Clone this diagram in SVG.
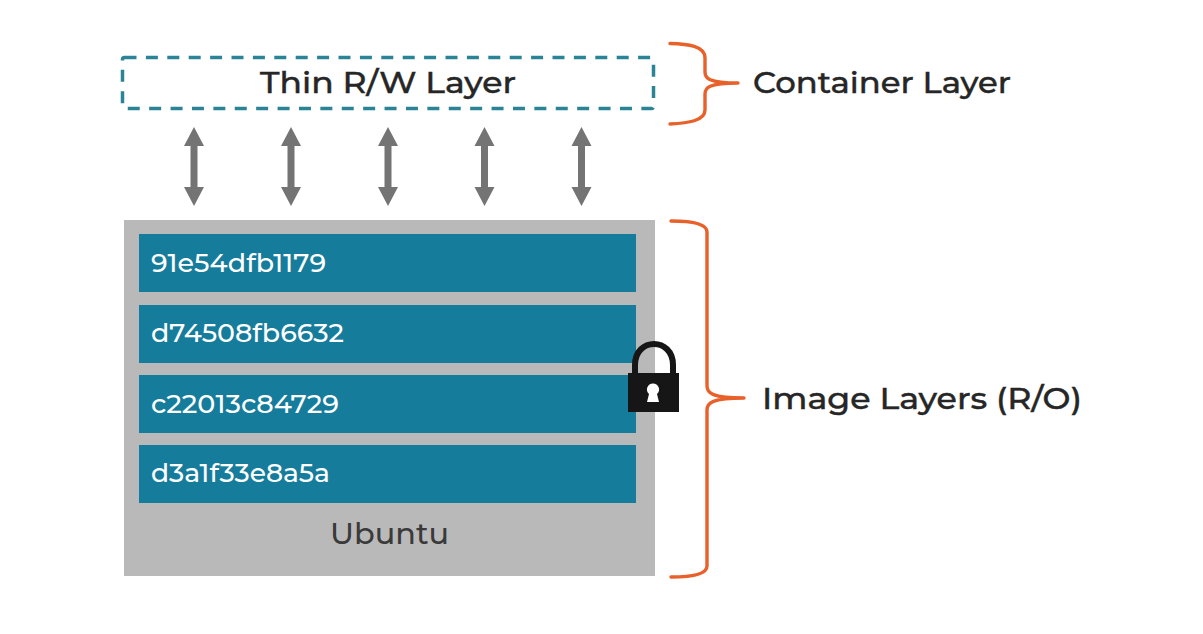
<svg xmlns="http://www.w3.org/2000/svg" width="1203" height="634" viewBox="0 0 1203 634">
<style>
text{font-family:"Montserrat","Inter","Noto Sans","Liberation Sans",sans-serif;font-weight:500}
.lbl{font-size:29px;fill:#262626;stroke:#262626;stroke-width:.4}
.hash{font-size:25px;fill:#fff;font-weight:500}
.layer{fill:#167c9c}
.brace{fill:none;stroke:#e8602a;stroke-width:3.400;stroke-linecap:round;stroke-linejoin:round}
.arr{fill:#747474}
</style>
<defs>
<path id="dbl" class="arr" d="M0 0L10 19H3.500V60H10L0 79L-10 60H-3.500V19H-10Z"/>
</defs>
<rect width="1203" height="634" fill="#fff"/>
<g id="thin-layer">
<rect x="122.500" y="57.500" width="531" height="51" rx="2" fill="none" stroke="#2a8496" stroke-width="3.500" stroke-dasharray="12 9.400"/>
<text class="lbl" x="388" y="93" text-anchor="middle" textLength="256" lengthAdjust="spacingAndGlyphs">Thin R/W Layer</text>
</g>
<g id="connectors">
<use href="#dbl" x="194" y="127"/>
<use href="#dbl" x="291" y="127"/>
<use href="#dbl" x="388" y="127"/>
<use href="#dbl" x="484.500" y="127"/>
<use href="#dbl" x="581.500" y="127"/>
</g>
<g id="ubuntu">
<rect x="124" y="220" width="531" height="356" fill="#b9b9b9"/>
<text class="lbl" x="389.500" y="544" text-anchor="middle" textLength="119" lengthAdjust="spacingAndGlyphs" style="fill:#3a3a3a;stroke:none">Ubuntu</text>
</g>
<g id="layer1"><rect class="layer" x="139" y="234" width="497" height="58"/><text class="hash" x="151" y="272" textLength="175" lengthAdjust="spacingAndGlyphs">91e54dfb1179</text></g>
<g id="layer2"><rect class="layer" x="139" y="305" width="497" height="58"/><text class="hash" x="151" y="342" textLength="193" lengthAdjust="spacingAndGlyphs">d74508fb6632</text></g>
<g id="layer3"><rect class="layer" x="139" y="375" width="497" height="58"/><text class="hash" x="151" y="413" textLength="188" lengthAdjust="spacingAndGlyphs">c22013c84729</text></g>
<g id="layer4"><rect class="layer" x="139" y="445" width="497" height="58"/><text class="hash" x="151" y="482" textLength="179" lengthAdjust="spacingAndGlyphs">d3a1f33e8a5a</text></g>
<g id="lock">
<path d="M635 375V365C635 337 673 337 673 365V375" fill="none" stroke="#161616" stroke-width="6"/>
<rect x="628" y="373" width="51" height="39" fill="#161616"/>
<path d="M653 383.500a6 6 0 0 1 4 10.500l2 8h-12l2-8a6 6 0 0 1 4-10.500z" fill="#fff"/>
</g>
<g id="container-brace">
<path class="brace" d="M670 43.500C688 44 705 46 705 58V72C705 78 708 83 738 83C708 83 705 88 705 94V110C705 121 688 123 670 124"/>
<text class="lbl" x="753" y="93" textLength="258" lengthAdjust="spacingAndGlyphs">Container Layer</text>
</g>
<g id="image-brace">
<path class="brace" d="M671 221C690 221 707 223 707 232V386C707 393 712 398 744 398C712 398 707 403 707 410V566C707 575 690 577 671 577"/>
<text class="lbl" x="762" y="409" textLength="320" lengthAdjust="spacingAndGlyphs">Image Layers (R/O)</text>
</g>
</svg>
